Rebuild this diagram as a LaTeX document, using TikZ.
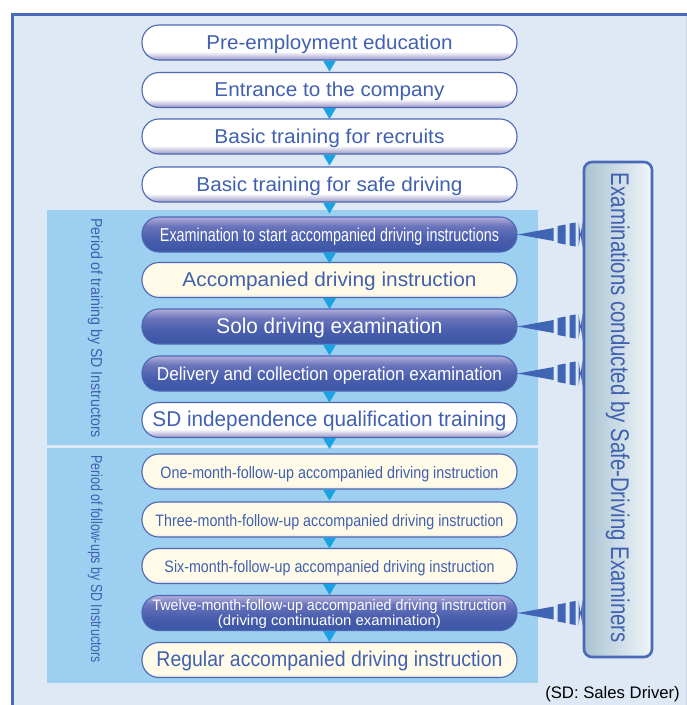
\documentclass[tikz,border=0pt]{standalone}
\usepackage{fontspec}
\setmainfont{Liberation Sans}
\usetikzlibrary{calc}
\definecolor{bgc}{HTML}{DFE9F5}
\definecolor{framec}{HTML}{4A6AB8}
\definecolor{bandc}{HTML}{9DCFF1}
\definecolor{bordc}{HTML}{4D67B3}
\definecolor{txtc}{HTML}{4060B0}
\definecolor{lavc}{HTML}{9A94C8}
\definecolor{creamc}{HTML}{FFFBE8}
\definecolor{creamlow}{HTML}{E2E4E8}
\definecolor{dk1}{HTML}{3B55A5}
\definecolor{dk2}{HTML}{4A5FAE}
\definecolor{dk3}{HTML}{6A74BB}
\definecolor{dk4}{HTML}{B2AED9}
\definecolor{arrowc}{HTML}{1BA2E2}
\definecolor{wedgec}{HTML}{4065B5}
\definecolor{exL}{HTML}{A9C3D3}
\definecolor{exM}{HTML}{E4EDF4}
\definecolor{exR}{HTML}{F0F5F9}
\definecolor{rightc}{HTML}{C9D6E6}
\pgfdeclareverticalshading{whiteshade}{100bp}{color(0bp)=(lavc); color(25bp)=(lavc); color(37bp)=(white); color(100bp)=(white)}
\pgfdeclareverticalshading{creamshade}{100bp}{color(0bp)=(creamlow); color(25bp)=(creamlow); color(31bp)=(creamc); color(100bp)=(creamc)}
\pgfdeclareverticalshading{darkshade}{100bp}{color(0bp)=(dk1); color(25bp)=(dk1); color(45bp)=(dk2); color(62bp)=(dk3); color(75bp)=(dk4); color(100bp)=(dk4)}
\newcommand{\fitt}[3]{\resizebox{#1pt}{#2pt}{#3}}
\begin{document}
\begin{tikzpicture}[x=1pt,y=-1pt,
  box/.style={minimum width=375pt, minimum height=35pt, rounded corners=17pt,
    draw=bordc, line width=1.1pt, inner sep=0pt, text height=13pt, text depth=0pt, text=txtc},
  wbox/.style={box, shading=whiteshade},
  dbox/.style={box, shading=darkshade, text=white},
  cbox/.style={box, shading=creamshade},
  vlabel/.style={rotate=-90, anchor=base, inner sep=0pt, text=txtc},
  exambox/.style={draw=framec, line width=2.6pt, rounded corners=8pt,
    minimum width=68pt, minimum height=495pt, left color=exL, middle color=exM, right color=exR, shading angle=90},
]
\useasboundingbox (0,0) rectangle (687,705);
% background frame
\fill[bgc] (12.5,14.5) rectangle (687,705);
\draw[rightc, line width=1pt] (686.5,16) -- (686.5,705);
\draw[framec, line width=3pt] (12.5,705) -- (12.5,14.5) -- (687,14.5);
% bands
\fill[bandc] (47,210) rectangle (538,445);
\fill[bandc] (47,448) rectangle (538,683);
% boxes
\node[wbox] (b1) at (329.5,42.5) {\fitt{246}{14.5}{Pre-employment education}};
\node[wbox] (b2) at (329.5,90) {\fitt{230}{14.5}{Entrance to the company}};
\node[wbox] (b3) at (329.5,136.5) {\fitt{230}{14.5}{Basic training for recruits}};
\node[wbox] (b4) at (329.5,184.5) {\fitt{266}{14.5}{Basic training for safe driving}};
\node[dbox] (b5) at (329.5,234.5) {\fitt{339}{13.5}{Examination to start accompanied driving instructions}};
\node[cbox] (b6) at (329.5,280) {\fitt{294}{14.5}{Accompanied driving instruction}};
\node[dbox] (b7) at (329.5,326.5) {\fitt{226}{15.5}{Solo driving examination}};
\node[dbox] (b8) at (329.5,373.5) {\fitt{345}{13.5}{Delivery and collection operation examination}};
\node[wbox] (b9) at (329.5,420) {\fitt{354}{15.5}{SD independence qualification training}};
\node[cbox] (b10) at (329.5,471.5) {\fitt{338}{12}{One-month-follow-up accompanied driving instruction}};
\node[cbox] (b11) at (329.5,519.5) {\fitt{348}{12}{Three-month-follow-up accompanied driving instruction}};
\node[cbox] (b12) at (329.5,566) {\fitt{330}{12}{Six-month-follow-up accompanied driving instruction}};
\node[dbox] (b13) at (329.5,613) {};
\node[anchor=base, inner sep=0pt, text=white] (b13a) at ([yshift=3pt]b13.center) {\fitt{354}{11}{Twelve-month-follow-up accompanied driving instruction}};
\node[anchor=base, inner sep=0pt, text=white] (b13b) at ([yshift=-12.5pt]b13.center) {\fitt{223}{10.5}{(driving continuation examination)}};
\node[cbox] (b14) at (329.5,660) {\fitt{346}{15.5}{Regular accompanied driving instruction}};
% down arrows
\foreach \a/\b in {b1/b2,b2/b3,b3/b4,b4/b5,b5/b6,b6/b7,b7/b8,b8/b9,b9/b10,b10/b11,b11/b12,b12/b13,b13/b14}{
  \fill[arrowc] ([xshift=-6.5pt]\a.south) -- ([xshift=6.5pt]\a.south) -- ($(\a.south)!11pt!(\b.north)$) -- cycle;
}
% examiners box
\node[exambox] (ex) at (618,409.5) {};
\node[vlabel, text=txtc] (extext) at (611,408) {\fitt{470}{18.5}{Examinations conducted by Safe-Driving Examiners}};
% wedge connectors
\foreach \b in {b5,b7,b8,b13}{
  \fill[wedgec] (\b.east) -- ([xshift=36pt,yshift=6.5pt]\b.east) -- ([xshift=36pt,yshift=-6.5pt]\b.east) -- cycle;
  \fill[wedgec] ([xshift=40pt,yshift=8.5pt]\b.east) -- ([xshift=48pt,yshift=10pt]\b.east) -- ([xshift=48pt,yshift=-10pt]\b.east) -- ([xshift=40pt,yshift=-8.5pt]\b.east) -- cycle;
  \fill[wedgec] ([xshift=52pt,yshift=11pt]\b.east) -- ([xshift=58pt,yshift=12pt]\b.east) -- ([xshift=58pt,yshift=-12pt]\b.east) -- ([xshift=52pt,yshift=-11pt]\b.east) -- cycle;
  \fill[wedgec] ([xshift=61pt,yshift=12.5pt]\b.east) -- ($(ex.west |- \b.east)+(0,13.5)$) -- ($(ex.west |- \b.east)+(0,-13.5)$) -- ([xshift=61pt,yshift=-12.5pt]\b.east) -- cycle;
}
% period labels
\node[vlabel] (p1) at (91,328) {\fitt{220}{11.5}{Period of training by SD Instructors}};
\node[vlabel] (p2) at (91,559) {\fitt{208}{11.5}{Period of follow-ups by SD Instructors}};
% note
\node[anchor=base east, inner sep=0pt, text=black, font=\fontsize{16.7pt}{18pt}\selectfont] (note) at (680,698) {(SD: Sales Driver)};
\end{tikzpicture}
\end{document}
